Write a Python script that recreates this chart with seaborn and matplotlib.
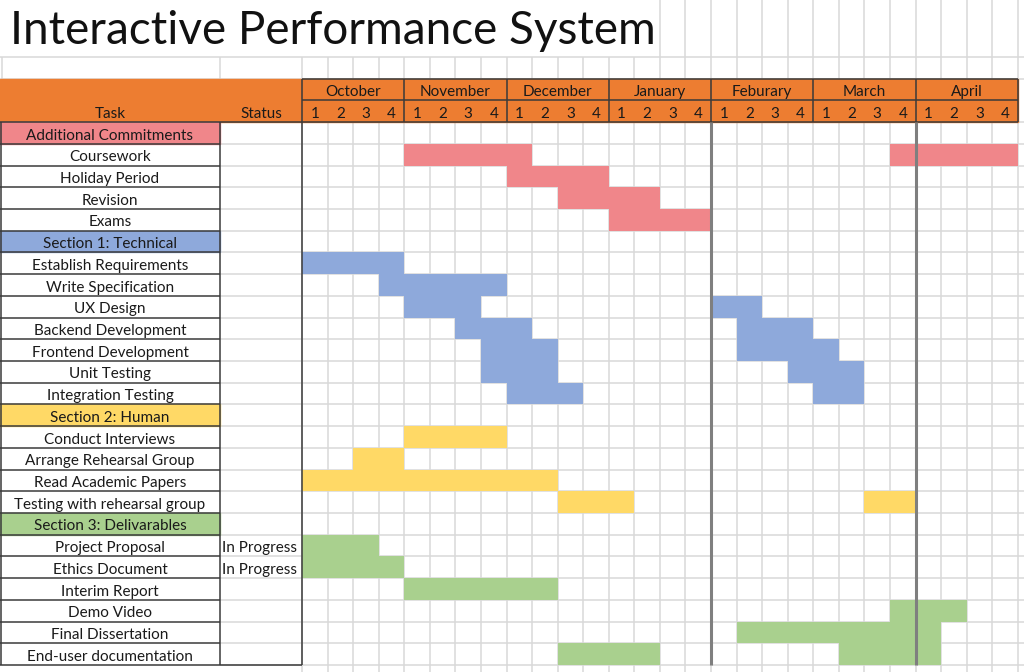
import numpy as np
import matplotlib
matplotlib.use("Agg")
import matplotlib.pyplot as plt
from matplotlib.colors import ListedColormap
from matplotlib.patches import Rectangle
import seaborn as sns

# %% data
title = "Interactive Performance System"
months = ["October", "November", "December", "January", "Feburary", "March", "April"]
week_labels = ["1", "2", "3", "4"]

task_names = [
    "Additional Commitments", "Coursework", "Holiday Period", "Revision", "Exams",
    "Section 1: Technical", "Establish Requirements", "Write Specification", "UX Design",
    "Backend Development", "Frontend Development", "Unit Testing", "Integration Testing",
    "Section 2: Human", "Conduct Interviews", "Arrange Rehearsal Group",
    "Read Academic Papers", "Testing with rehearsal group",
    "Section 3: Delivarables", "Project Proposal", "Ethics Document", "Interim Report",
    "Demo Video", "Final Dissertation", "End-user documentation",
]
task_status = [""] * 19 + ["In Progress", "In Progress"] + [""] * 4
section_rows = [0, 5, 13, 18]
row_section = [1] * 5 + [2] * 8 + [3] * 5 + [4] * 7

# start week (0 = October wk1) and length in weeks, one list per row
bar_starts = [
    [], [4, 23], [8], [10], [12],
    [], [0], [3], [4, 16], [6, 17], [7, 17], [7, 19], [8, 20],
    [], [4], [2], [0], [10, 22],
    [], [0], [0], [4], [23], [17], [10, 21],
]
bar_weeks = [
    [], [5, 5], [4], [4], [4],
    [], [4], [5], [3, 2], [3, 3], [3, 4], [3, 3], [3, 2],
    [], [4], [2], [10], [3, 2],
    [], [3], [4], [6], [3], [8], [4, 4],
]
milestone_weeks = [16, 24]

section_colors = ["#F0868A", "#8EA9DB", "#FFD966", "#A9D08E"]
orange = "#ED7D31"
grid_c = "#D9D9D9"
dark = "#3A3A3A"
fs = 11

# %% build cell matrix
n_rows = len(task_names)
n_weeks = len(months) * 4
cells = np.full((n_rows, n_weeks), np.nan)
for r in range(n_rows):
    for s, w in zip(bar_starts[r], bar_weeks[r]):
        cells[r, s:s + w] = row_section[r]

# %% plot
sns.set_theme(style="white")
plt.rcParams["font.family"] = ["Lato", "DejaVu Sans"]

fig = plt.figure(figsize=(10.24, 6.72), dpi=100)
ax = fig.add_axes([0, 0, 1, 1])

sns.heatmap(cells, cmap=ListedColormap(section_colors), vmin=0.5, vmax=4.5,
            cbar=False, ax=ax, linewidths=0)

x_left, x_status = -11.81, -3.21
x_right, y_top, y_bot = 28.24, -5.62, 25.32
ax.set_xlim(x_left, x_right)
ax.set_ylim(y_bot, y_top)
ax.axis("off")

# spreadsheet grid
ax.vlines(range(0, n_weeks + 1), -3, y_bot, color=grid_c, lw=1.1, zorder=0.5)
ax.vlines(range(14, n_weeks + 1), y_top, -3, color=grid_c, lw=1.1, zorder=0.5)
ax.vlines([x_left + 0.06, x_status], -3, -2, color=grid_c, lw=1.1, zorder=0.5)
ax.hlines([-3, -2], x_left, x_right, color=grid_c, lw=1.1, zorder=0.5)
ax.hlines(range(0, n_rows + 1), x_status, x_right, color=grid_c, lw=1.1, zorder=0.5)

# header band
ax.add_patch(Rectangle((x_left, -2), n_weeks - x_left, 2, color=orange, zorder=2))
ax.hlines([-2, -1], 0, n_weeks, color=dark, lw=1.1, zorder=3)
ax.hlines(0, x_left, n_weeks, color=dark, lw=1.1, zorder=3)
ax.vlines(range(0, n_weeks + 1, 4), -2, 0, color=dark, lw=1.1, zorder=3)
ax.text((x_left + x_status) / 2, -0.45, "Task", ha="center", va="center_baseline",
        fontsize=fs, color="#1a1a1a", zorder=4)
ax.text(x_status / 2, -0.45, "Status", ha="center", va="center_baseline",
        fontsize=fs, color="#1a1a1a", zorder=4)
for m, name in enumerate(months):
    ax.text(m * 4 + 2, -1.45, name, ha="center", va="center_baseline", fontsize=fs,
            color="#1a1a1a", zorder=4)
    for k, wl in enumerate(week_labels):
        ax.text(m * 4 + k + 0.5, -0.45, wl, ha="center", va="center_baseline",
                fontsize=fs, color="#1a1a1a", zorder=4)

# task table
for r in section_rows:
    ax.add_patch(Rectangle((x_left, r), x_status - x_left, 1,
                           color=section_colors[row_section[r] - 1], zorder=2))
ax.hlines(range(1, n_rows + 1), x_left, x_status, color=dark, lw=1.1, zorder=3)
ax.hlines(n_rows, x_status, 0, color=dark, lw=1.1, zorder=3)
ax.vlines([x_left + 0.04, x_status, 0], 0, n_rows, color=dark, lw=1.1, zorder=3)
for r, (name, st) in enumerate(zip(task_names, task_status)):
    ax.text((x_left + x_status) / 2, r + 0.55, name, ha="center", va="center_baseline",
            fontsize=fs, color="#1a1a1a", zorder=4)
    if st:
        ax.text(x_status + 0.07, r + 0.55, st, ha="left", va="center_baseline",
                fontsize=fs, color="#1a1a1a", zorder=4)

# term boundaries
ax.vlines(milestone_weeks, 0, n_rows, color="#7F7F7F", lw=2.2, zorder=3.5)

ax.text(x_left + 0.4, -3.6, title, ha="left", va="baseline", fontsize=33,
        color="#111111", zorder=4)

fig.savefig("out.png", dpi=100)
